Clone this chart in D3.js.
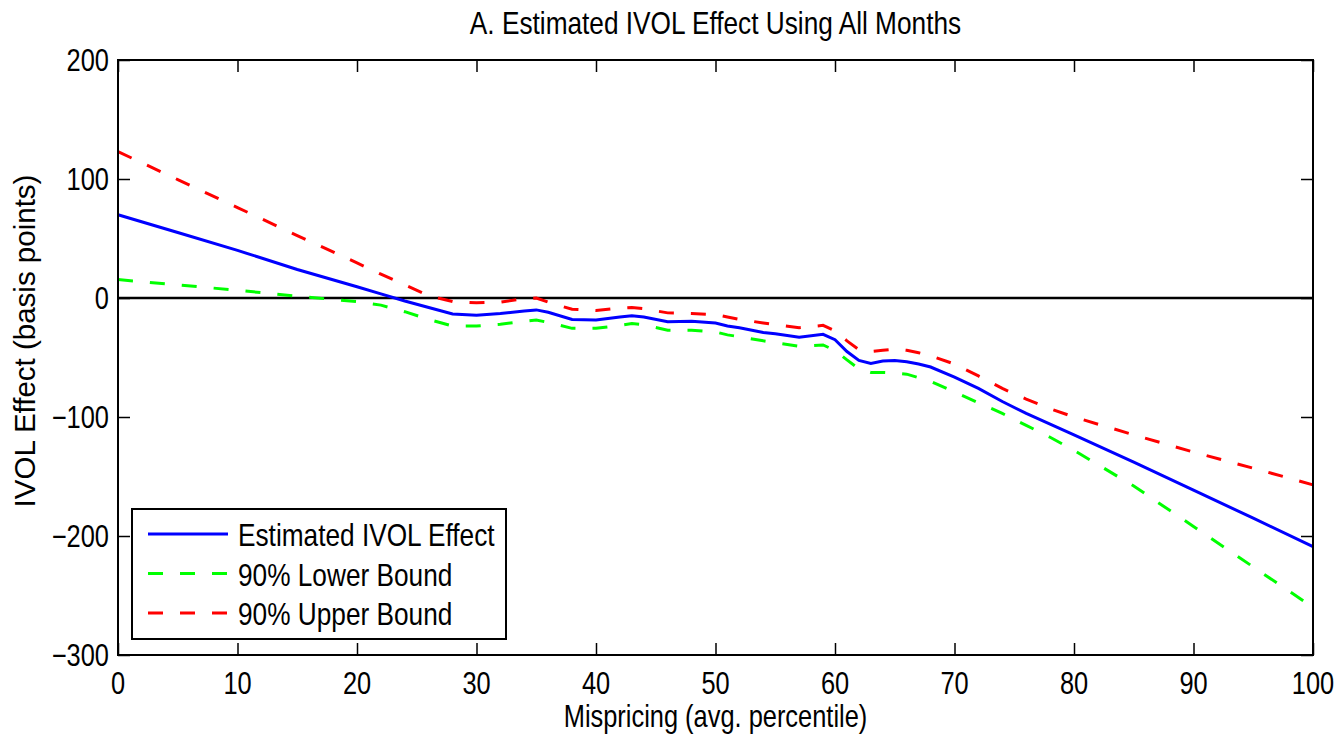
<!DOCTYPE html>
<html>
<head>
<meta charset="utf-8">
<script src="https://cdn.jsdelivr.net/npm/d3@7"></script>
<style>
  body { margin: 0; background: #fff; }
  text { font-family: "Liberation Sans", Arial, sans-serif; fill: #000; }
</style>
</head>
<body>
<svg id="chart" width="1338" height="738"></svg>
<script>
// mispricing percentile (x) and the three series
var pctl = [0, 5, 10, 15, 20, 22, 24, 26, 28, 30, 32, 34, 35, 36, 38, 40, 42, 43, 44, 46, 48,
  50, 51, 52, 54, 55, 57, 59, 60, 61, 62, 63, 64, 65, 66, 67, 68, 70, 72, 74, 76, 78, 80, 85, 90, 95, 100];
var estimate = [70, 55, 40, 24, 9.5, 3.5, -2.5, -8, -13.5, -14.5, -13, -11, -10, -12, -18, -18.5, -16, -15, -16, -20, -19.5,
  -21, -23.5, -25, -29, -30, -33, -30.5, -35, -45, -52.5, -55, -53, -52.5, -53.5, -55.5, -58, -66.5, -76, -87, -97, -106, -115, -138, -161.5, -185, -209];
var lower = [15.5, 11, 6.5, 1.5, -3, -6, -11.5, -18, -23.5, -23.5, -22, -19.5, -18.5, -20.5, -25.5, -25.5, -23, -21.5, -22.5, -27, -27,
  -28.5, -31, -32.5, -36, -37.5, -40.5, -39.5, -44, -52, -59.5, -62.5, -62.5, -63, -64, -67, -70, -79, -88, -97, -107, -117, -128, -158, -192, -226, -260];
var upper = [123, 99.5, 76, 52.5, 29.5, 20, 11, 2, -3, -4, -3.5, -0.5, 0, -3.5, -9.5, -10.5, -8.5, -8, -9, -12.5, -13,
  -14, -16, -18, -21, -22.5, -25, -23, -27.5, -36, -43.5, -45, -44, -43, -44, -46, -48.5, -55.5, -65.5, -76, -85, -93, -100, -115, -129.5, -143, -157];

var xTicks = [0, 10, 20, 30, 40, 50, 60, 70, 80, 90, 100];
var yTicks = [200, 100, 0, -100, -200, -300];
var seriesNames = ["Estimated IVOL Effect", "90% Lower Bound", "90% Upper Bound"];

var svg = d3.select("#chart");
var plotLeft = 118, plotTop = 60, plotRight = 1313, plotBottom = 655;
var squeeze = 0.82; // the figure's lettering is horizontally condensed

var x = d3.scaleLinear().domain([0, 100]).range([plotLeft, plotRight]);
var y = d3.scaleLinear().domain([-300, 200]).range([plotBottom, plotTop]);

function condensedText(g, tx, ty, str, size, anchor) {
  return g.append("text")
    .attr("transform", "translate(" + tx + "," + ty + ") scale(" + squeeze + ",1)")
    .attr("font-size", size + "px")
    .attr("text-anchor", anchor)
    .text(str);
}

// ticks pointing inward on all four sides
function drawAxis(axis, tx, ty) {
  var g = svg.append("g")
    .attr("transform", "translate(" + tx + "," + ty + ")")
    .call(axis);
  g.selectAll("text").remove();
  g.select(".domain").remove();
  g.selectAll(".tick line").attr("stroke", "#000").attr("stroke-width", 1.5);
  return g;
}
drawAxis(d3.axisBottom(x).tickValues(xTicks).tickSize(-12), 0, plotBottom);
drawAxis(d3.axisTop(x).tickValues(xTicks).tickSize(-12), 0, plotTop);
drawAxis(d3.axisLeft(y).tickValues(yTicks).tickSize(-12), plotLeft, 0);
drawAxis(d3.axisRight(y).tickValues(yTicks).tickSize(-12), plotRight, 0);

// tick labels
var labels = svg.append("g");
xTicks.forEach(function (t) {
  condensedText(labels, x(t), 694, String(t), 31, "middle");
});
yTicks.forEach(function (t) {
  condensedText(labels, plotLeft - 9, y(t) + 11, String(t).replace("-", "\u2212"), 31, "end");
});

// zero reference line
svg.append("line")
  .attr("x1", x(0)).attr("x2", x(100))
  .attr("y1", y(0)).attr("y2", y(0))
  .attr("stroke", "#000")
  .attr("stroke-width", 2.5);

var series = [
  { name: seriesNames[0], values: estimate, color: "#0000ff", dash: null },
  { name: seriesNames[1], values: lower, color: "#00ff00", dash: "15,17" },
  { name: seriesNames[2], values: upper, color: "#ff0000", dash: "15,17" }
];

var line = d3.line()
  .x(function (d, i) { return x(pctl[i]); })
  .y(function (d) { return y(d); });

// draw bounds first so the estimate sits on top
[series[2], series[1], series[0]].forEach(function (s) {
  svg.append("path")
    .attr("d", line(s.values))
    .attr("fill", "none")
    .attr("stroke", s.color)
    .attr("stroke-width", 3)
    .attr("stroke-dasharray", s.dash);
});

// frame
svg.append("rect")
  .attr("x", plotLeft).attr("y", plotTop)
  .attr("width", plotRight - plotLeft).attr("height", plotBottom - plotTop)
  .attr("fill", "none")
  .attr("stroke", "#000")
  .attr("stroke-width", 2);

// legend
var legend = svg.append("g");
legend.append("rect")
  .attr("x", 132).attr("y", 509)
  .attr("width", 374).attr("height", 130)
  .attr("fill", "#fff")
  .attr("stroke", "#000")
  .attr("stroke-width", 2);
series.forEach(function (s, i) {
  var ly = 534 + i * 39.5;
  legend.append("line")
    .attr("x1", 148).attr("x2", 228)
    .attr("y1", ly).attr("y2", ly)
    .attr("stroke", s.color)
    .attr("stroke-width", 3)
    .attr("stroke-dasharray", s.dash);
  condensedText(legend, 238, ly + 12, s.name, 32, "start");
});

// titles
condensedText(svg, (plotLeft + plotRight) / 2, 34, "A. Estimated IVOL Effect Using All Months", 32, "middle");
condensedText(svg, (plotLeft + plotRight) / 2, 727, "Mispricing (avg. percentile)", 31, "middle");
svg.append("text")
  .attr("transform", "translate(35,341) rotate(-90)")
  .attr("font-size", "29.5px")
  .attr("text-anchor", "middle")
  .text("IVOL Effect (basis points)");
</script>
</body>
</html>
